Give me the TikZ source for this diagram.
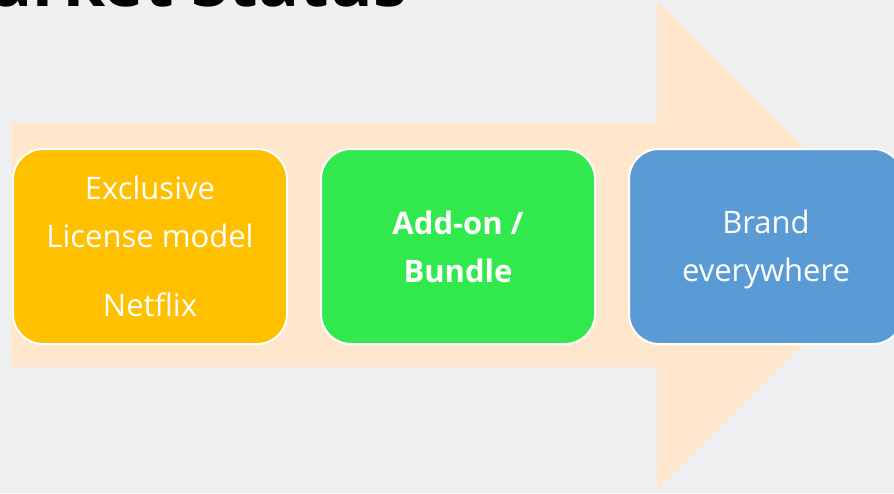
\documentclass[tikz,border=0pt]{standalone}
\usepackage{fontspec}
\setmainfont{Open Sans}
\usetikzlibrary{positioning}
\definecolor{slidebg}{HTML}{EEEFF1}
\definecolor{arrowpeach}{HTML}{FFE7CD}
\definecolor{stageyellow}{HTML}{FFC000}
\definecolor{stagegreen}{HTML}{32E94D}
\definecolor{stageblue}{HTML}{5B9BD5}
\tikzset{
  stagebox/.style={draw=white, line width=2pt, rounded corners=30pt,
    minimum width=274pt, minimum height=195pt, text=white, align=center,
    font=\fontsize{31}{48}\selectfont},
}
\begin{document}
\begin{tikzpicture}[x=1pt,y=-1pt]
  \useasboundingbox (0,0) rectangle (894,493);
  \clip (0,0) rectangle (894,493);
  \fill[slidebg] (0,0) rectangle (894,493);
  % big arrow behind the stages
  \fill[arrowpeach] (11,122) -- (657,122) -- (657,0) -- (902,245)
    -- (657,490) -- (657,367) -- (11,367) -- cycle;
  \node[stagebox, fill=stageyellow] (license) at (150,246.5)
    {Exclusive\\License model\\[21pt]Netflix};
  \node[stagebox, fill=stagegreen] (bundle) at (458,246.5)
    {\bfseries Add-on /\\\bfseries Bundle};
  \node[stagebox, fill=stageblue] (brand) at (766,246.5)
    {\rule{0pt}{30pt}Brand\\everywhere};
  \node[anchor=base west, inner sep=0pt, font=\bfseries\fontsize{68}{68}\selectfont]
    (title) at (-9,6) {arket Status};
\end{tikzpicture}
\end{document}
